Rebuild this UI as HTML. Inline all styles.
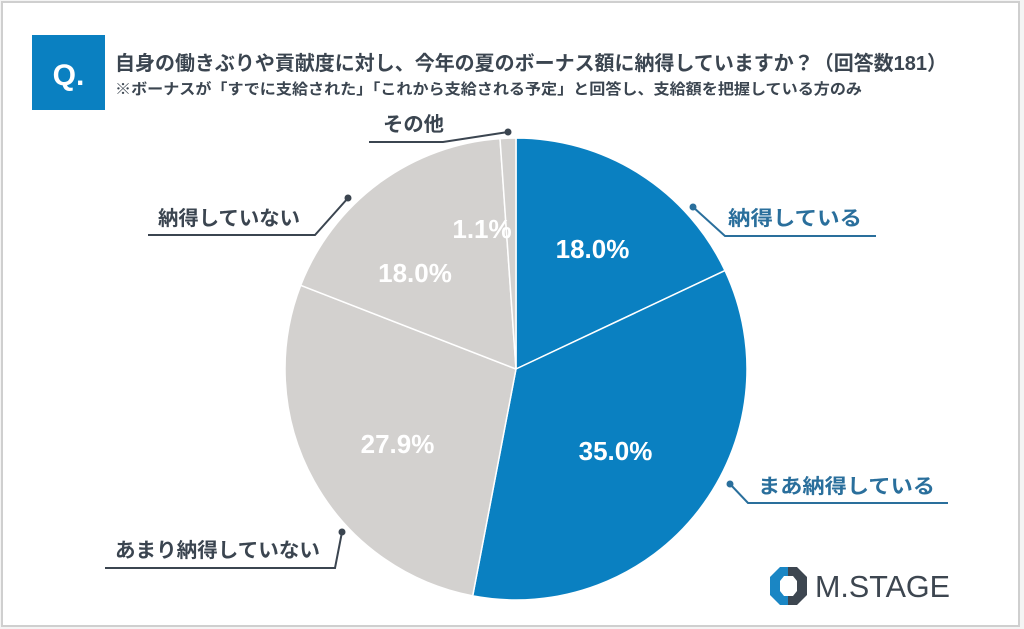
<!DOCTYPE html>
<html><head><meta charset="utf-8"><style>
html,body{margin:0;padding:0;background:#fff;}
svg{display:block;}
</style></head><body>
<svg width="1024" height="629" viewBox="0 0 1024 629" xmlns="http://www.w3.org/2000/svg">
<rect x="0" y="0" width="1024" height="629" fill="#f4f4f4"/>
<rect x="2" y="2" width="1017" height="624" fill="#ffffff" stroke="#cfcfcf" stroke-width="2"/>
<!-- Q box -->
<rect x="32" y="35" width="73" height="75" fill="#0a80c1"/>
<text x="68.5" y="85" text-anchor="middle" fill="#ffffff" font-family="Liberation Sans, sans-serif" font-weight="bold" font-size="30">Q.</text>
<!-- Title -->
<text x="115" y="70" fill="#3b4550" font-family="'Liberation Sans','Noto Sans CJK JP',sans-serif" font-weight="bold" font-size="20" textLength="832" lengthAdjust="spacingAndGlyphs">自身の働きぶりや貢献度に対し、今年の夏のボーナス額に納得していますか？（回答数181）</text>
<text x="115" y="94" fill="#3b4550" font-family="'Liberation Sans','Noto Sans CJK JP',sans-serif" font-weight="bold" font-size="15" textLength="747" lengthAdjust="spacingAndGlyphs">※ボーナスが「すでに支給された」「これから支給される予定」と回答し、支給額を把握している方のみ</text>
<!-- Pie -->
<g stroke="#ffffff" stroke-width="1.5" stroke-linejoin="round">
<path d="M516,369 L516,138 A231,231 0 0,1 725.0,270.6 Z" fill="#0a80c1"/>
<path d="M516,369 L725.0,270.6 A231,231 0 0,1 472.7,595.9 Z" fill="#0a80c1"/>
<path d="M516,369 L472.7,595.9 A231,231 0 0,1 300.7,285.3 Z" fill="#d3d1cf"/>
<path d="M516,369 L300.7,285.3 A231,231 0 0,1 500.0,138.6 Z" fill="#d3d1cf"/>
<path d="M516,369 L500.0,138.6 A231,231 0 0,1 516,138 Z" fill="#d3d1cf"/>
</g>
<!-- Percentages -->
<g fill="#ffffff" font-family="Liberation Sans, sans-serif" font-weight="bold" font-size="26" text-anchor="middle">
<text x="592.5" y="258">18.0%</text>
<text x="615.5" y="460">35.0%</text>
<text x="397.5" y="453">27.9%</text>
<text x="415" y="282">18.0%</text>
<text x="482" y="238">1.1%</text>
</g>
<!-- Leader lines -->
<g fill="none" stroke-width="2">
<polyline points="369,142 443,142 508,132" stroke="#3b4550"/>
<polyline points="148,235 315,235 348,198" stroke="#3b4550"/>
<polyline points="693,207 725,236 876,236" stroke="#2a6f9c"/>
<polyline points="730,484 748,503 948,503" stroke="#2a6f9c"/>
<polyline points="105,568 335,568 342,532" stroke="#3b4550"/>
</g>
<g>
<circle cx="508" cy="132" r="3.5" fill="#3b4550"/>
<circle cx="348" cy="198" r="3.5" fill="#3b4550"/>
<circle cx="693" cy="207" r="3.5" fill="#2a6f9c"/>
<circle cx="730" cy="484" r="3.5" fill="#2a6f9c"/>
<circle cx="342" cy="532" r="3.5" fill="#3b4550"/>
</g>
<!-- Labels -->
<g font-family="'Liberation Sans','Noto Sans CJK JP',sans-serif" font-weight="bold" font-size="20">
<text x="383" y="131" fill="#3b4550" textLength="61" lengthAdjust="spacingAndGlyphs">その他</text>
<text x="158" y="225" fill="#3b4550" textLength="142" lengthAdjust="spacingAndGlyphs">納得していない</text>
<text x="728" y="225" fill="#2a6f9c" textLength="134" lengthAdjust="spacingAndGlyphs">納得している</text>
<text x="758" y="493" fill="#2a6f9c" textLength="177" lengthAdjust="spacingAndGlyphs">まあ納得している</text>
<text x="115" y="557" fill="#3b4550" textLength="205" lengthAdjust="spacingAndGlyphs">あまり納得していない</text>
</g>
<!-- Logo -->
<g>
<polygon points="788,567 780,567 770,577 770,595 780,605 788,605" fill="#1a86c4"/>
<polygon points="788,567 797,567 807,577 807,595 797,605 788,605" fill="#3d4650"/>
<polygon points="784,576 793,576 797,581 797,591 793,596 784,596 780,591 780,581" fill="#ffffff"/>
<text x="815" y="597" fill="#3d4650" font-family="Liberation Sans, sans-serif" font-size="31" textLength="135" lengthAdjust="spacingAndGlyphs">M.STAGE</text>
</g>
</svg>
</body></html>
